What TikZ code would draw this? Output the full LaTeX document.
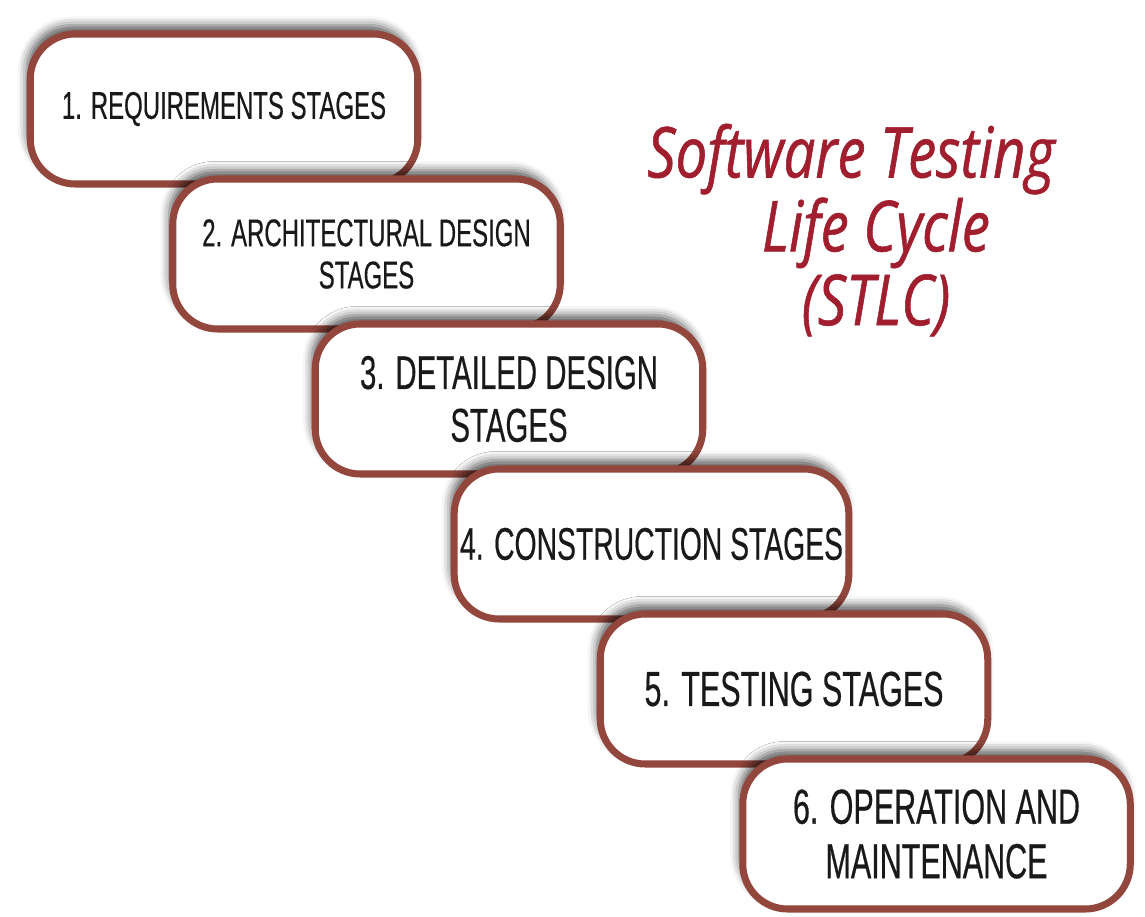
\documentclass[tikz,border=0pt]{standalone}
\usepackage{fontspec}
\usepackage{tikz}
\newfontfamily\stagefont[FakeStretch=0.62,FakeBold=0.4]{Liberation Sans}
\newfontfamily\titlefont[FakeStretch=0.8,FakeBold=0.8]{Open Sans}
\newcommand{\nodewidth}{7.75cm}
\newcommand{\nodeheight}{3cm}
\definecolor{myBrown}{RGB}{146,70,60}
\definecolor{myRed}{RGB}{160,30,45}
\usetikzlibrary{calc,positioning,shadows.blur}
\tikzset{
  stage/.style={draw=myBrown,fill=white,line width=4pt,shape=rectangle,rounded corners=0.9cm,minimum width=\nodewidth,minimum height=\nodeheight,align=center,text=black!90,font=\stagefont\fontsize{28}{31}\selectfont,blur shadow={shadow xshift=-2pt,shadow yshift=5pt,shadow blur radius=5pt,shadow opacity=65}},
  title/.style={text=myRed,align=center,font=\titlefont\itshape\fontsize{40}{42}\selectfont},
}

\begin{document}
\begin{tikzpicture}
  \useasboundingbox (0,0) rectangle (22.9,-18.34);
  \node (s1) [stage,font=\stagefont\fontsize{22}{24}\selectfont] at (4.48,-2.18) {1. REQUIREMENTS STAGES};
  \node (s2) [stage,font=\stagefont\fontsize{22}{24}\selectfont] at ($(s1)+(2.85,-2.9)$) {2. ARCHITECTURAL DESIGN\\STAGES};
  \node (s3) [stage,font=\stagefont\fontsize{27}{30}\selectfont] at ($(s2)+(2.85,-2.9)$) {3. DETAILED DESIGN\\STAGES};
  \node (s4) [stage,font=\stagefont\fontsize{26}{28}\selectfont] at ($(s3)+(2.85,-2.9)$) {4. CONSTRUCTION STAGES};
  \node (s5) [stage] at ($(s4)+(2.85,-2.9)$) {5. TESTING STAGES};
  \node (s6) [stage] at ($(s5)+(2.85,-2.9)$) {6. OPERATION AND\\MAINTENANCE};
  \node (stlc) [title] at (17.52,-4.6) {Software Testing\hspace*{1cm}\\Life Cycle\\(STLC)};
\end{tikzpicture}
\end{document}
